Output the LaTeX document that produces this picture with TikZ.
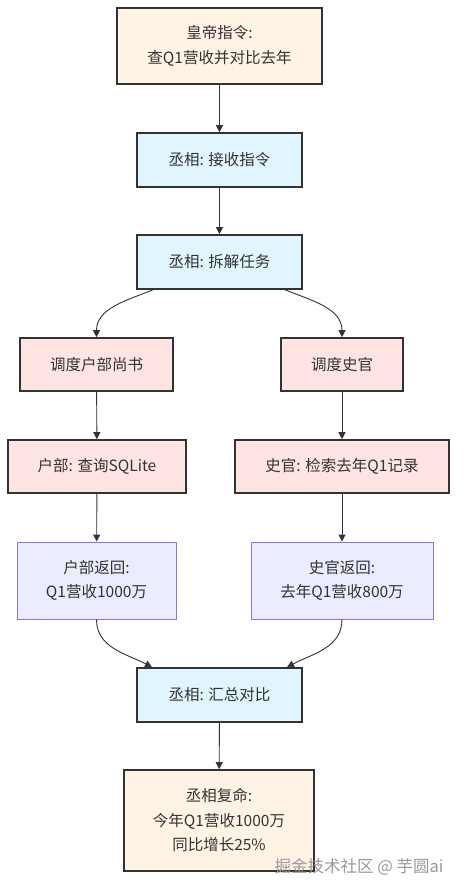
\documentclass[tikz,border=0pt]{standalone}
\usepackage{fontspec}
\setmainfont{Noto Sans CJK SC}
\usepackage{tikz}
\usetikzlibrary{arrows.meta}
\tikzset{>={Triangle[length=7pt,width=7pt]}}
\definecolor{myink}{RGB}{51,51,51}
\definecolor{myorder}{RGB}{255,243,230}
\definecolor{myblue}{RGB}{225,245,254}
\definecolor{mypink}{RGB}{255,228,228}
\definecolor{mypurple}{RGB}{236,236,255}
\definecolor{mypurpleline}{RGB}{147,112,219}

\begin{document}
\begin{tikzpicture}[x=1pt, y=-1pt, font=\fontsize{15.5}{24.5}\selectfont, text=myink,
box/.style={draw=myink, line width=1.6pt, align=center, inner sep=0pt},
order/.style={box, fill=myorder},
chancellor/.style={box, fill=myblue},
dispatch/.style={box, fill=mypink},
reply/.style={draw=mypurpleline, line width=0.9pt, fill=mypurple, align=center, inner sep=0pt},
link/.style={draw=myink, line width=0.9pt, ->}]
\useasboundingbox (0,0) rectangle (465,894);
\node[order, minimum width=205, minimum height=76] (edict) at (219.5,46) {皇帝指令:\\查Q1营收并对比去年};
\node[chancellor, minimum width=165, minimum height=54] (receive) at (219.5,160) {丞相: 接收指令};
\node[chancellor, minimum width=165, minimum height=54] (split) at (219.5,262) {丞相: 拆解任务};
\node[dispatch, minimum width=153, minimum height=53] (huCall) at (96.5,364.5) {调度户部尚书};
\node[dispatch, minimum width=122, minimum height=53] (shiCall) at (342,364.5) {调度史官};
\node[dispatch, minimum width=178, minimum height=53] (huQuery) at (97,466.5) {户部: 查询SQLite};
\node[dispatch, minimum width=214, minimum height=53] (shiSearch) at (342,466.5) {史官: 检索去年Q1记录};
\node[reply, minimum width=159, minimum height=77] (huReply) at (96.5,580.5) {户部返回:\\Q1营收1000万};
\node[reply, minimum width=182, minimum height=77] (shiReply) at (342,580.5) {史官返回:\\去年Q1营收800万};
\node[chancellor, minimum width=165, minimum height=54] (summary) at (219.5,695) {丞相: 汇总对比};
\node[order, minimum width=190, minimum height=101] (final) at (219,820.5) {丞相复命:\\今年Q1营收1000万\\同比增长25\%};
% straight links
\foreach \a / \b in {edict/receive, receive/split, huCall/huQuery, shiCall/shiSearch, huQuery/huReply, shiSearch/shiReply, summary/final}{
\draw[link] (\a) -- (\b);
}
% curved links
\draw[link] ([xshift=-66.5pt]split.south) to[out=-158, in=90] (huCall.north);
\draw[link] ([xshift=65.5pt]split.south) to[out=-22, in=90] (shiCall.north);
\draw[link] (huReply.south) to[out=-90, in=152] ([xshift=-67.5pt]summary.north);
\draw[link] (shiReply.south) to[out=-90, in=28] ([xshift=67.5pt]summary.north);
\node[text=gray!80, font=\fontsize{16.5}{16.5}\selectfont] (mark) at (359,867) {掘金技术社区 @ 芋圆ai};
\end{tikzpicture}
\end{document}
